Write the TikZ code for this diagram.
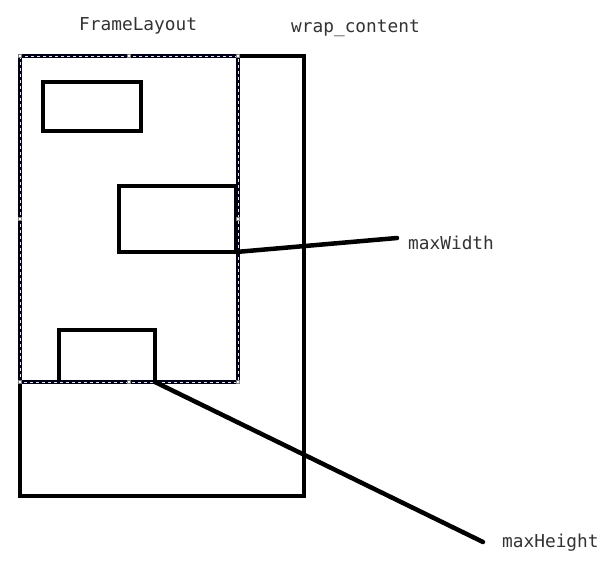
\documentclass[tikz,border=0pt]{standalone}
\usepackage{fontspec}
\setmonofont{DejaVu Sans Mono}
\begin{document}
\begin{tikzpicture}[x=1pt,y=-1pt,
  thickline/.style={line width=4.5pt,black},
  lbl/.style={font=\ttfamily\fontsize{17.8}{20}\selectfont,text=black!80,inner sep=0pt},
  handle/.style={draw=gray,fill=white,line width=0.5pt,minimum size=3pt,inner sep=0pt}]
\useasboundingbox[fill=white] (0,0) rectangle (611,565);
% outer wrap_content box
\draw[thickline] (20,56) rectangle (304,496);
% child boxes
\draw[thickline] (43,82) rectangle (141,131);
\draw[thickline] (119,186) rectangle (236,252);
\draw[thickline] (59,330) rectangle (155,382);
\coordinate (b2se) at (236,252);
\coordinate (b3se) at (155,382);
% FrameLayout selection (dashed)
\draw[line width=4.5pt,black!90!blue] (20,56) rectangle (238,382);
\draw[line width=0.8pt,white!80!gray,dash pattern=on 3pt off 3pt] (20,56) rectangle (238,382);
\foreach \p in {(20,56),(129,56),(238,56),(20,219),(238,219),(20,382),(129,382),(238,382)}
  \node[handle] at \p {};
% labels
\node[lbl,anchor=base west] (fl) at (79,30) {FrameLayout};
\node[lbl,anchor=base west] (wc) at (291,32) {wrap\_content};
\node[lbl,anchor=base west] (mw) at (408,249) {maxWidth};
\node[lbl,anchor=base west] (mh) at (502,547) {maxHeight};
\coordinate (mwend) at (397,238);
\coordinate (mhend) at (483,542);
% connectors
\draw[line width=4.5pt,line cap=round] (b2se) -- (mwend);
\draw[line width=4.5pt,line cap=round] (b3se) -- (mhend);
\end{tikzpicture}
\end{document}
